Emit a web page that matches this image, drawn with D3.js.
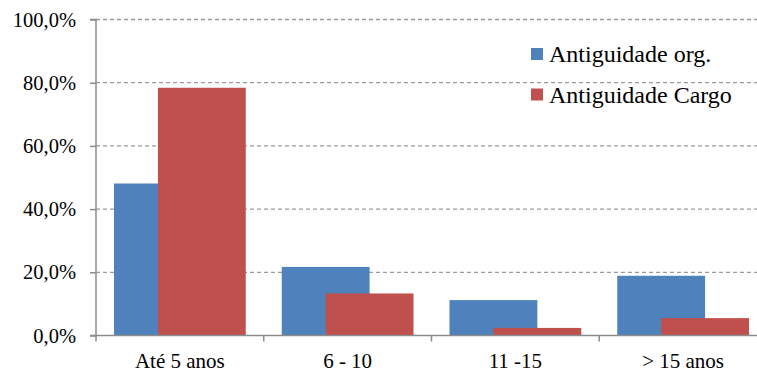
<!DOCTYPE html>
<html>
<head>
<meta charset="utf-8">
<script src="https://cdn.jsdelivr.net/npm/d3@7"></script>
<style>
  html, body { margin: 0; padding: 0; background: #fff; }
  svg { display: block; }
  svg text { font-family: "Liberation Serif", "Tinos", "Times New Roman", "DejaVu Serif", serif; }
</style>
</head>
<body>
<svg id="chart" width="757" height="371"></svg>
<script>
// Age-band categories and the share of people in each band
const categories = ["Até 5 anos", "6 - 10", "11 -15", "> 15 anos"];
const seriesNames = ["Antiguidade org.", "Antiguidade Cargo"];
const orgValues = [48.1, 21.7, 11.2, 18.9];
const cargoValues = [78.4, 13.3, 2.4, 5.5];
const yTicks = [0, 20, 40, 60, 80, 100];
const colors = ["#4F81BD", "#C0504D"];

(function draw() {
  const svg = d3.select("#chart");

  const plotLeft = 96, plotRight = 767, plotTop = 19.5, plotBottom = 335.5;

  const x = d3.scaleBand().domain(categories).range([plotLeft, plotRight]).paddingInner(0).paddingOuter(0);
  const y = d3.scaleLinear().domain([0, 100]).range([plotBottom, plotTop]);

  // Dashed horizontal gridlines
  svg.append("g")
    .selectAll("line")
    .data(yTicks.filter(d => d > 0))
    .join("line")
    .attr("x1", plotLeft).attr("x2", 757)
    .attr("y1", d => y(d)).attr("y2", d => y(d))
    .attr("stroke", "#9a9a9a")
    .attr("stroke-width", 1.3)
    .attr("stroke-dasharray", "4,3");

  // Bars: two series per band, each half-overlapping the other
  const gap = 18;
  const barW = (x.bandwidth() - 2 * gap) / 1.5;
  const series = [orgValues, cargoValues];
  series.forEach((vals, si) => {
    svg.append("g")
      .selectAll("rect")
      .data(categories.map((c, i) => ({ c, v: vals[i] })))
      .join("rect")
      .attr("x", d => x(d.c) + gap + si * barW / 2)
      .attr("y", d => y(d.v))
      .attr("width", barW)
      .attr("height", d => y(0) - y(d.v))
      .attr("fill", colors[si]);
  });

  // Y axis
  const yAxis = d3.axisLeft(y)
    .tickValues(yTicks)
    .tickSize(6)
    .tickPadding(14)
    .tickFormat(d => d3.format(".1f")(d).replace(".", ",") + "%");
  const gy = svg.append("g").attr("transform", `translate(${plotLeft},0)`).call(yAxis)
    .attr("font-family", null);
  gy.select(".domain").attr("stroke", "#8c8c8c").attr("stroke-width", 1.5)
    .attr("d", `M-6,${plotTop}H0V${plotBottom}H-6`);
  gy.selectAll(".tick line").attr("stroke", "#8c8c8c").attr("stroke-width", 1.5);
  gy.selectAll(".tick text")
    .attr("font-size", 20.5).attr("fill", "#000");

  // X axis with ticks at band boundaries
  const gx = svg.append("g").attr("transform", `translate(0,${plotBottom})`);
  gx.append("line").attr("x1", plotLeft).attr("x2", 757).attr("y1", 0).attr("y2", 0)
    .attr("stroke", "#8c8c8c").attr("stroke-width", 1.5);
  gx.selectAll("line.tk")
    .data(categories)
    .join("line").attr("class", "tk")
    .attr("x1", d => x(d)).attr("x2", d => x(d))
    .attr("y1", 0).attr("y2", 6)
    .attr("stroke", "#8c8c8c").attr("stroke-width", 1.5);
  gx.selectAll("text")
    .data(categories)
    .join("text")
    .attr("x", d => x(d) + x.bandwidth() / 2)
    .attr("y", 32)
    .attr("text-anchor", "middle")
    .attr("font-size", 21)
    .text(d => d);

  // Legend
  const legend = svg.append("g").attr("transform", "translate(531,48)");
  seriesNames.forEach((name, i) => {
    const g = legend.append("g").attr("transform", `translate(0,${i * 40.5})`);
    g.append("rect").attr("width", 12).attr("height", 12).attr("fill", colors[i]);
    g.append("text").attr("x", 18).attr("y", 14)
      .attr("font-size", 24)
      .text(name);
  });
})();
</script>
</body>
</html>
